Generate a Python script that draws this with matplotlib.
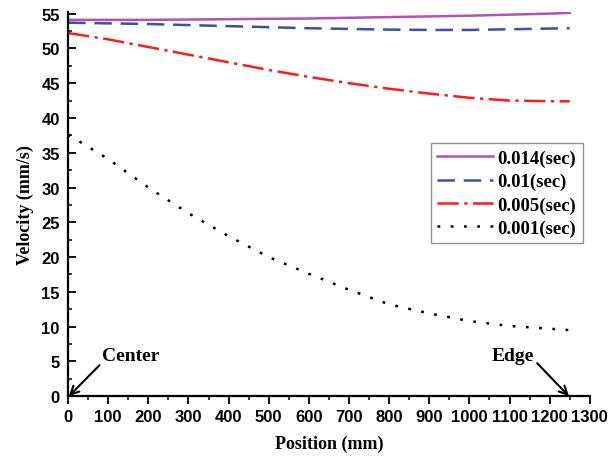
import numpy as np
import matplotlib.pyplot as plt
from matplotlib.ticker import MultipleLocator

# posicoes (mm) e velocidades (mm/s)
posicao = [0, 100, 200, 300, 400, 500, 600, 700, 800, 900, 1000, 1100, 1200, 1250]
v_0014 = [54.1, 54.1, 54.1, 54.15, 54.2, 54.25, 54.3, 54.4, 54.5, 54.6, 54.7, 54.85, 55.0, 55.1]
v_001 = [53.7, 53.6, 53.5, 53.35, 53.2, 53.05, 52.9, 52.8, 52.7, 52.65, 52.65, 52.75, 52.85, 52.9]
v_0005 = [52.2, 51.3, 50.2, 49.1, 48.0, 46.9, 45.9, 45.0, 44.2, 43.5, 42.9, 42.5, 42.4, 42.4]
v_0001 = [37.6, 34.1, 30.0, 26.3, 23.0, 20.0, 17.6, 15.3, 13.2, 11.9, 10.8, 10.1, 9.7, 9.5]

rotulos = ['0.014(sec)', '0.01(sec)', '0.005(sec)', '0.001(sec)']

serif = 'Liberation Serif'
sans = 'Liberation Sans'

fig = plt.figure(figsize=(6.08, 4.64), dpi=100)
ax = fig.add_axes([0.112, 0.144, 0.858, 0.829])

ax.plot(posicao, v_0014, color='#b452b4', lw=1.8, label=rotulos[0])
ax.plot(posicao, v_001, color='#3a4fae', lw=1.8, dashes=(7, 3.5), label=rotulos[1])
ax.plot(posicao, v_0005, color='#ff1a1a', lw=1.8, dashes=(8.5, 2.2, 1.3, 2.2), label=rotulos[2])
ax.plot(posicao, v_0001, color='black', lw=1.8, dashes=(1.1, 4.2), label=rotulos[3])

ax.set_xlim(0, 1300)
ax.set_ylim(0, 55.3)
ax.xaxis.set_major_locator(MultipleLocator(100))
ax.xaxis.set_minor_locator(MultipleLocator(50))
ax.yaxis.set_major_locator(MultipleLocator(5))
ax.yaxis.set_minor_locator(MultipleLocator(2.5))

for s in ['top', 'right']:
    ax.spines[s].set_visible(False)
for s in ['left', 'bottom']:
    ax.spines[s].set_linewidth(1.6)

ax.tick_params(axis='x', which='major', direction='out', length=6, width=1.3, pad=3)
ax.tick_params(axis='x', which='minor', direction='out', length=3, width=1.1)
ax.tick_params(axis='y', which='major', direction='in', length=6, width=1.3, pad=6)
ax.tick_params(axis='y', which='minor', direction='in', length=3, width=1.1)

for lab in ax.get_xticklabels() + ax.get_yticklabels():
    lab.set_fontfamily(sans)
    lab.set_fontweight('bold')
    lab.set_fontsize(12)

ax.set_xlabel('Position (mm)', fontfamily=serif, fontweight='bold', fontsize=13, labelpad=8)
ax.set_ylabel('Velocity (mm/s)', fontfamily=serif, fontweight='bold', fontsize=13, labelpad=5)

ax.annotate('Center', xy=(2, 0), xytext=(85, 4.6), fontfamily=serif, fontweight='bold',
            fontsize=14, ha='left', va='bottom',
            arrowprops=dict(arrowstyle='->', color='black', lw=1.5, mutation_scale=15,
                            shrinkA=0, shrinkB=0, relpos=(0, 0.1)),
            annotation_clip=False)
ax.annotate('Edge', xy=(1248, 0), xytext=(1162, 4.6), fontfamily=serif, fontweight='bold',
            fontsize=14, ha='right', va='bottom',
            arrowprops=dict(arrowstyle='->', color='black', lw=1.5, mutation_scale=15,
                            shrinkA=0, shrinkB=0, relpos=(1.05, 0.1)),
            annotation_clip=False)

leg = ax.legend(loc='upper left', bbox_to_anchor=(0.695, 0.658),
                prop={'family': serif, 'weight': 'bold', 'size': 13.5},
                handlelength=3.0, handletextpad=0.2, borderpad=0.35, labelspacing=0.32,
                fancybox=False, frameon=True, borderaxespad=0)
leg.get_frame().set_edgecolor('#777777')
leg.get_frame().set_linewidth(1.0)

fig.savefig('out.png', dpi=100)
